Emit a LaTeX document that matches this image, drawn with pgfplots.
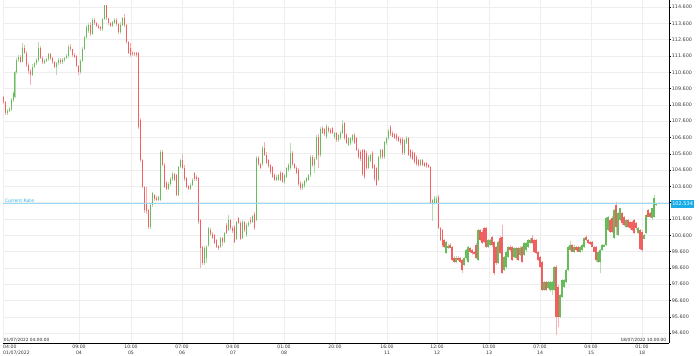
\documentclass[border=0pt]{standalone}
\usepackage{fontspec}
\setmainfont{DejaVu Sans}
\usepackage{pgfplots}
\usepackage{pgfplotstable}
\pgfplotsset{compat=1.18}
\definecolor{upc}{RGB}{102,187,90}
\definecolor{dnc}{RGB}{240,96,96}
\definecolor{upw}{RGB}{178,222,168}
\definecolor{dnw}{RGB}{246,178,178}
\definecolor{crline}{RGB}{150,218,245}
\definecolor{crtext}{RGB}{50,178,232}
\definecolor{crbox}{RGB}{25,172,230}
\definecolor{gridc}{RGB}{238,238,238}
\pgfplotstableread{
x o h l c
3.3 109.08 109.15 108.65 108.77
5.5 108.77 108.85 107.95 108.10
7.5 108.10 108.35 108.00 108.25
9.5 108.25 108.45 108.15 108.35
11.3 108.35 109.00 108.25 108.90
13.3 108.90 109.40 108.80 109.30
14.8 109.10 110.70 109.00 110.60
16.7 110.60 111.45 110.50 111.35
18.7 111.35 111.65 111.20 111.55
20.7 111.55 111.65 111.15 111.25
22.7 111.25 112.40 111.20 112.10
24.7 112.10 112.30 111.70 111.80
26.7 111.80 111.90 110.95 111.05
28.7 111.05 111.15 110.50 110.65
30.7 110.65 110.80 109.80 110.45
32.7 110.45 111.10 110.35 110.95
34.7 110.95 111.25 110.85 111.15
36.7 111.15 111.45 111.05 111.35
38.7 111.35 112.45 111.25 112.10
40.7 112.10 112.20 111.40 111.50
42.7 111.50 111.60 111.10 111.20
44.7 111.20 111.40 111.10 111.30
46.7 111.30 111.50 111.20 111.40
48.7 111.40 111.80 111.30 111.70
50.7 111.70 111.75 111.35 111.45
52.7 111.45 111.55 111.10 111.20
54.7 111.20 111.30 110.85 110.95
56.7 110.95 111.25 110.40 111.15
58.7 111.15 111.45 111.05 111.35
60.7 111.35 111.45 111.10 111.20
62.7 111.20 111.45 111.10 111.35
64.7 111.35 111.55 111.25 111.45
66.7 111.45 111.70 111.40 111.60
68.7 111.60 112.30 111.50 112.15
70.7 112.15 112.35 111.90 112.00
72.7 112.00 112.05 111.55 111.65
74.7 111.65 111.80 111.50 111.60
76.7 111.60 111.65 110.90 111.00
78.7 111.00 111.05 110.45 110.60
80.7 110.60 111.40 110.50 111.30
82.7 111.30 112.15 111.20 112.05
84.7 112.05 112.85 111.95 112.75
86.7 112.75 113.50 112.65 113.35
88.7 113.10 113.60 113.00 113.50
90.7 113.50 113.70 112.85 112.95
92.7 112.95 113.95 112.90 113.80
94.7 113.80 113.95 113.50 113.60
96.7 113.60 113.70 113.35 113.45
98.7 113.45 113.55 113.25 113.35
100.7 113.35 113.45 113.15 113.25
102.7 113.25 113.95 113.10 113.85
104.7 113.85 114.75 113.80 114.70
106.7 114.70 114.75 113.80 113.90
108.7 113.90 113.95 113.50 113.60
110.7 113.60 113.70 113.35 113.45
112.7 113.45 113.75 113.40 113.65
114.7 113.65 113.90 113.55 113.80
116.7 113.80 113.90 113.45 113.55
118.5 113.55 113.60 112.95 113.07
120.7 113.07 113.65 112.95 113.50
122.7 113.50 114.00 113.45 113.90
124.7 113.90 114.17 113.40 113.50
126.7 113.50 113.55 112.35 112.45
128.7 112.45 112.50 111.70 111.80
130.7 112.10 112.40 111.55 111.65
132.7 111.80 111.90 111.60 111.70
134.7 111.80 111.85 111.60 111.70
136.7 111.75 111.85 111.55 111.65
138.7 111.78 111.85 107.10 107.24
140.7 107.70 107.80 105.10 105.21
142.7 105.21 105.30 103.50 103.56
144.7 103.56 103.65 101.95 102.15
146.7 102.50 103.56 101.90 102.10
148.7 102.15 102.20 101.00 101.10
150.7 101.10 102.50 101.00 102.45
152.7 102.45 103.25 102.35 103.19
154.7 103.07 103.15 102.70 102.80
156.7 102.90 103.00 102.70 102.78
158.7 102.76 103.00 102.70 102.95
160.7 102.76 105.80 102.70 105.70
162.7 105.70 105.85 104.85 104.91
164.7 104.91 105.03 103.50 103.56
166.7 103.80 103.90 103.35 103.45
168.7 103.45 103.85 103.40 103.75
170.7 103.75 104.15 103.65 104.05
172.7 104.05 104.45 103.95 104.35
174.7 104.35 104.40 103.90 104.00
176.7 104.29 104.35 103.00 103.07
178.7 103.07 104.85 103.00 104.79
180.7 104.79 105.30 104.70 105.21
182.7 105.21 105.58 104.65 104.75
184.7 104.75 104.90 103.95 104.05
186.7 104.11 104.15 103.50 103.56
188.7 103.60 103.70 103.35 103.45
190.7 103.45 103.80 103.40 103.70
192.7 103.70 104.10 103.65 104.00
194.7 104.40 104.45 103.95 104.05
196.7 104.20 104.30 103.95 104.05
198.7 104.11 104.20 101.30 101.41
200.7 101.53 101.60 98.59 99.82
202.7 99.88 99.95 98.80 98.90
204.7 98.90 99.95 98.75 99.82
206.7 99.20 100.00 98.90 99.90
208.7 100.00 101.10 99.90 101.04
210.7 100.95 101.05 100.55 100.65
212.7 100.70 100.80 100.35 100.43
214.7 100.60 100.70 100.05 100.12
216.7 100.31 100.35 99.80 99.88
218.7 99.95 100.00 99.70 99.80
220.7 99.85 100.50 99.80 100.43
222.7 100.43 100.50 99.95 100.18
224.7 100.18 100.80 100.10 100.74
226.7 101.23 101.35 100.65 100.74
228.7 100.92 101.85 100.85 101.53
230.7 101.53 101.60 100.95 101.05
232.7 101.05 101.15 100.75 100.85
234.7 101.10 101.20 100.10 100.18
236.7 100.40 101.50 100.30 101.41
238.7 101.66 101.75 101.30 101.35
240.7 101.35 101.45 100.30 100.40
242.7 100.43 101.55 100.35 101.41
244.7 101.41 101.50 100.80 100.92
246.7 100.61 101.35 100.50 101.23
248.7 101.23 101.45 101.10 101.35
250.7 101.53 101.70 101.30 101.41
252.7 101.41 101.85 101.35 101.78
254.7 101.90 102.00 100.95 101.05
256.7 101.53 105.45 101.45 105.34
258.7 105.34 105.45 104.85 104.95
260.7 104.95 105.05 104.65 104.75
262.7 104.95 106.05 104.85 105.95
264.7 105.95 106.32 105.45 105.52
266.7 105.52 105.70 104.95 105.05
268.7 105.21 105.30 104.75 104.85
270.7 104.91 105.00 104.35 104.45
272.7 104.79 104.85 104.10 104.17
274.7 104.29 104.40 103.95 104.00
276.7 104.00 104.30 103.90 104.17
278.7 104.00 104.35 103.90 104.29
280.7 104.42 104.55 103.95 104.00
282.7 104.42 104.50 103.80 103.87
284.7 103.87 104.35 103.75 104.29
286.7 104.17 104.80 104.10 104.72
288.7 104.60 105.05 104.50 104.91
290.7 104.72 106.26 104.60 105.64
292.7 105.64 105.75 104.85 104.95
294.7 104.95 105.05 104.65 104.72
296.7 104.72 104.85 104.35 104.42
298.7 104.60 104.70 103.65 103.75
300.7 103.80 103.90 103.40 103.50
302.7 103.50 103.85 103.40 103.75
304.7 103.60 104.00 103.50 103.90
306.7 103.90 104.15 103.80 104.10
308.7 104.00 104.35 103.90 104.29
310.7 104.29 105.55 104.20 105.40
312.7 105.40 105.50 104.80 104.91
314.7 104.91 105.40 104.40 105.30
316.7 105.30 106.75 105.20 106.60
318.7 106.60 106.80 104.72 105.52
320.7 105.52 107.25 105.40 107.10
322.7 107.18 107.30 106.80 106.90
324.7 107.10 107.20 106.70 106.80
326.7 106.60 107.40 106.50 107.30
328.7 107.20 107.30 106.90 107.00
330.7 107.05 107.15 106.80 106.87
332.7 107.18 107.25 106.80 106.87
334.7 106.60 106.95 106.50 106.87
336.7 106.87 106.95 106.35 106.44
338.7 106.44 106.80 106.35 106.75
340.7 106.56 107.00 106.45 106.90
342.7 106.87 107.67 106.80 107.36
344.7 107.48 107.55 106.45 106.56
346.7 106.75 106.85 106.20 106.26
348.7 106.13 106.65 106.05 106.56
350.7 106.26 106.65 106.15 106.56
352.7 106.44 106.80 106.35 106.75
354.7 106.75 106.85 106.20 106.26
356.7 106.56 106.65 105.75 105.83
358.7 105.83 105.95 105.30 105.40
360.7 105.70 105.85 105.15 105.25
362.7 105.83 105.90 104.25 104.35
364.7 105.83 105.90 104.05 104.15
366.7 105.64 105.75 104.60 104.72
368.7 104.72 105.50 104.65 105.40
370.7 105.15 105.60 105.10 105.52
372.7 105.64 105.75 104.65 104.72
374.7 104.91 105.00 103.95 104.05
376.7 104.72 104.80 103.60 103.68
378.7 104.00 105.45 103.90 105.40
380.7 105.40 105.90 105.30 105.83
382.7 105.83 105.90 105.30 105.40
384.7 105.40 106.40 105.30 106.32
386.7 106.26 106.65 106.15 106.56
388.7 106.56 107.10 106.45 107.00
390.7 107.24 107.36 106.70 106.80
392.7 106.90 107.00 106.60 106.65
394.7 106.80 106.90 106.50 106.56
396.7 106.75 106.85 106.40 106.50
398.7 106.60 106.70 106.35 106.40
400.7 106.50 106.60 106.15 106.26
402.7 106.50 106.60 105.55 105.64
404.7 105.64 106.50 105.55 106.44
406.7 106.26 106.70 106.20 106.56
408.7 106.56 106.65 105.45 105.52
410.7 105.83 105.90 105.30 105.40
412.7 105.70 105.80 105.20 105.30
414.7 105.64 105.70 105.00 105.09
416.7 105.40 105.50 104.85 104.95
418.7 105.21 105.30 104.80 104.91
420.7 104.91 105.25 104.85 105.21
422.7 105.21 105.30 104.85 104.91
424.7 105.03 105.10 104.80 104.85
426.7 105.03 105.10 104.75 104.85
428.7 104.91 105.00 104.70 104.79
430.7 104.79 104.85 102.50 102.58
432.7 102.58 102.85 101.50 102.76
434.7 102.58 103.00 102.50 102.88
436.7 102.58 103.00 102.50 102.82
438.7 102.94 103.05 101.00 101.04
440.5 101.04 101.10 100.25 100.31
442.2 100.92 101.00 99.90 100.00
444.0 100.31 100.40 99.80 99.88
446.0 99.51 100.25 99.45 100.18
448.0 99.82 100.05 99.75 99.95
450.0 100.00 100.10 99.80 99.82
452.0 99.88 99.95 99.00 99.08
454.0 99.20 99.30 98.90 98.96
456.0 98.96 99.30 98.90 99.20
458.0 99.20 99.30 99.05 99.08
460.0 99.20 99.25 98.90 98.96
462.0 99.08 99.15 98.28 98.47
464.0 98.77 99.25 98.70 99.20
466.0 99.20 99.75 99.10 99.69
468.0 98.96 99.95 98.90 99.88
470.0 99.82 99.90 99.50 99.57
472.0 99.69 99.75 99.40 99.51
474.0 99.57 99.65 99.45 99.51
476.0 100.00 100.10 99.15 99.20
478.0 99.08 101.00 99.00 100.92
480.0 100.92 101.00 100.25 100.31
482.0 100.80 100.90 100.05 100.12
484.0 101.04 101.10 100.10 100.18
486.0 101.04 101.10 99.80 99.88
488.0 99.88 100.40 99.80 100.31
490.0 100.00 100.40 99.95 100.31
492.0 100.49 100.55 99.90 100.00
494.0 100.18 100.25 98.16 98.28
496.0 99.88 99.95 98.80 98.90
498.0 98.90 100.25 98.85 100.18
500.0 100.43 100.55 99.45 99.51
502.0 100.49 101.23 98.20 98.28
504.0 98.47 99.30 98.40 99.26
506.0 98.65 99.65 98.55 99.57
508.0 99.26 99.95 99.20 99.88
510.0 99.88 100.00 99.60 99.69
512.0 99.88 99.95 99.00 99.08
514.0 99.26 99.90 99.20 99.82
516.0 99.20 99.90 99.10 99.82
518.0 99.82 99.90 99.00 99.08
520.0 99.39 99.95 99.30 99.82
522.0 99.88 99.95 98.90 98.96
524.0 99.39 100.20 99.30 100.12
526.0 99.69 100.20 99.60 100.12
528.0 99.88 100.40 99.80 100.31
530.0 100.12 100.45 100.05 100.31
532.0 100.43 100.60 100.05 100.12
534.0 100.31 100.40 99.50 99.57
536.0 100.31 100.40 99.45 99.51
538.0 99.57 99.65 99.00 99.08
540.0 99.26 99.35 98.60 98.65
542.0 98.96 99.05 97.15 97.24
544.0 97.24 97.80 97.15 97.73
546.0 97.73 97.80 97.15 97.24
548.0 97.36 97.80 97.30 97.73
550.0 97.24 97.80 97.10 97.73
552.0 97.24 97.80 96.93 97.73
554.0 97.24 98.70 97.15 98.67
556.0 98.67 98.75 94.48 95.58
558.0 97.44 97.55 94.97 95.58
560.0 95.58 97.00 95.50 96.93
562.0 96.83 97.90 96.75 97.85
564.0 97.44 97.90 97.35 97.85
566.0 97.75 98.55 97.70 98.47
568.0 98.47 99.95 98.40 99.90
570.0 99.69 100.25 99.65 100.00
572.0 100.00 100.05 99.55 99.59
574.0 99.59 100.00 99.50 99.90
576.0 99.90 99.95 99.65 99.69
578.0 99.90 99.95 99.55 99.59
580.0 99.59 99.95 99.50 99.90
582.0 99.69 100.05 99.60 100.00
584.0 99.90 100.45 99.80 100.41
586.0 100.51 100.61 100.25 100.31
588.0 100.31 100.35 100.05 100.10
590.0 100.20 100.25 100.00 100.05
592.0 100.20 100.25 99.85 99.90
594.0 99.90 99.95 99.55 99.59
596.0 99.90 99.95 98.97 99.08
598.0 98.97 99.65 98.90 99.59
600.0 98.97 99.75 98.26 99.69
602.0 99.69 100.05 99.65 100.00
604.0 99.90 100.05 99.85 100.00
606.0 100.00 101.70 99.95 101.64
608.0 100.92 101.80 100.85 101.74
610.0 101.53 101.60 100.75 100.82
612.0 101.64 101.75 100.75 100.82
614.0 100.41 102.20 100.35 102.15
616.0 102.45 102.62 100.60 101.10
618.0 100.61 102.00 100.55 101.94
620.0 101.53 102.30 101.45 102.25
622.0 101.94 102.00 101.25 101.33
624.0 101.74 101.80 101.15 101.23
626.0 101.12 101.60 101.05 101.53
628.0 101.53 101.60 101.05 101.12
630.0 101.43 101.50 100.95 101.02
632.0 101.43 101.50 100.85 100.92
634.0 101.53 101.60 100.65 100.72
636.0 101.33 101.40 100.95 101.02
638.0 100.72 101.10 100.65 101.02
640.0 100.92 101.00 99.69 99.75
642.0 100.82 100.90 99.55 99.69
644.0 100.40 100.70 100.35 100.61
646.0 100.72 101.90 100.65 101.84
648.0 102.15 102.20 101.70 101.74
650.0 101.94 102.00 101.65 101.74
652.0 101.64 102.30 101.55 102.25
654.0 101.74 103.07 101.65 102.86
656.0 102.45 102.60 102.40 102.53
}\candles
\begin{document}
\begin{tikzpicture}
\path[use as bounding box] (-3pt,-13pt) rectangle (696pt,343pt);
\begin{axis}[
  at={(0pt,0pt)}, anchor=south west,
  scale only axis, width=666pt, height=343pt,
  xmin=3, xmax=669, ymin=93.99, ymax=115.03,
  clip=false,
  axis x line*=bottom, axis y line*=right,
  axis line style={-, black, line width=0.9pt},
  xtick={79,131,182,233,284,335,387,437,489,540,591,642},
  xticklabels={{09:00\\04},{10:00\\05},{07:00\\06},{04:00\\07},{01:00\\08},{20:00},{16:00\\11},{12:00\\12},{10:00\\13},{07:00\\14},{04:00\\15},{01:00\\18}},
  extra x ticks={3},
  extra x tick labels={{04:00\\01/07/2022}},
  extra x tick style={xticklabel style={anchor=north west, align=left, xshift=-1pt}},
  x tick label style={align=center, font=\fontsize{4.6}{5.4}\selectfont, text=black!80, inner sep=1pt, yshift=0.5pt},
  ytick={94.6,95.6,96.6,97.6,98.6,99.6,100.6,101.6,102.6,103.6,104.6,105.6,106.6,107.6,108.6,109.6,110.6,111.6,112.6,113.6,114.6},
  y tick label style={font=\fontsize{4.9}{5.5}\selectfont, text=black!75, inner sep=1pt,
    /pgf/number format/fixed, /pgf/number format/fixed zerofill, /pgf/number format/precision=3, /pgf/number format/assume math mode=true},
  tick align=outside,
  xtick style={draw=none},
  ytick style={black, line width=0.4pt},
  major tick length=1.6pt,
  grid=major,
  grid style={gridc, line width=0.5pt},
]
% wicks
\addplot[draw=none, mark=none, forget plot,
  error bars/.cd, y dir=both, y explicit, error mark=none,
  error bar style={draw=upw, line width=0.55pt}]
  table[x=x, y expr={\thisrow{c}>=\thisrow{o} ? (\thisrow{h}+\thisrow{l})/2 : nan},
        y error expr={(\thisrow{h}-\thisrow{l})/2}] {\candles};
\addplot[draw=none, mark=none, forget plot,
  error bars/.cd, y dir=both, y explicit, error mark=none,
  error bar style={draw=dnw, line width=0.55pt}]
  table[x=x, y expr={\thisrow{c}<\thisrow{o} ? (\thisrow{h}+\thisrow{l})/2 : nan},
        y error expr={(\thisrow{h}-\thisrow{l})/2}] {\candles};
% bodies
\addplot[draw=none, mark=none, forget plot,
  error bars/.cd, y dir=both, y explicit, error mark=none,
  error bar style={draw=upc, line width=1.3pt}]
  table[x=x, y expr={\thisrow{c}>=\thisrow{o} ? (\thisrow{o}+\thisrow{c})/2 : nan},
        y error expr={max(abs(\thisrow{c}-\thisrow{o})/2,0.03)}] {\candles};
\addplot[draw=none, mark=none, forget plot,
  error bars/.cd, y dir=both, y explicit, error mark=none,
  error bar style={draw=dnc, line width=1.3pt}]
  table[x=x, y expr={\thisrow{c}<\thisrow{o} ? (\thisrow{o}+\thisrow{c})/2 : nan},
        y error expr={max(abs(\thisrow{c}-\thisrow{o})/2,0.03)}] {\candles};
% current rate
\addplot[crline, line width=1.1pt, forget plot] coordinates {(3,102.534) (669,102.534)};
\coordinate (crL) at (axis cs:4,102.534);
\coordinate (crR) at (axis cs:669,102.534);
\coordinate (bl) at (axis cs:3,93.99);
\coordinate (br) at (axis cs:667,93.99);
\end{axis}
\node[anchor=south west, text=crtext, font=\fontsize{4.6}{5}\selectfont, inner sep=0.6pt] at (crL) {Current Rate};
\node[anchor=west, fill=crbox, text=white, font=\fontsize{5}{6}\selectfont, inner ysep=2pt, inner xsep=1.5pt, xshift=1.6pt] at (crR) {102.534};
\node[anchor=south west, font=\fontsize{4.3}{5}\selectfont, text=black!85, inner sep=0.6pt] at (bl) {01/07/2022 04:00:00};
\node[anchor=south east, font=\fontsize{4.3}{5}\selectfont, text=black!85, inner sep=0.6pt] at (br) {18/07/2022 10:00:00};
\end{tikzpicture}
\end{document}
